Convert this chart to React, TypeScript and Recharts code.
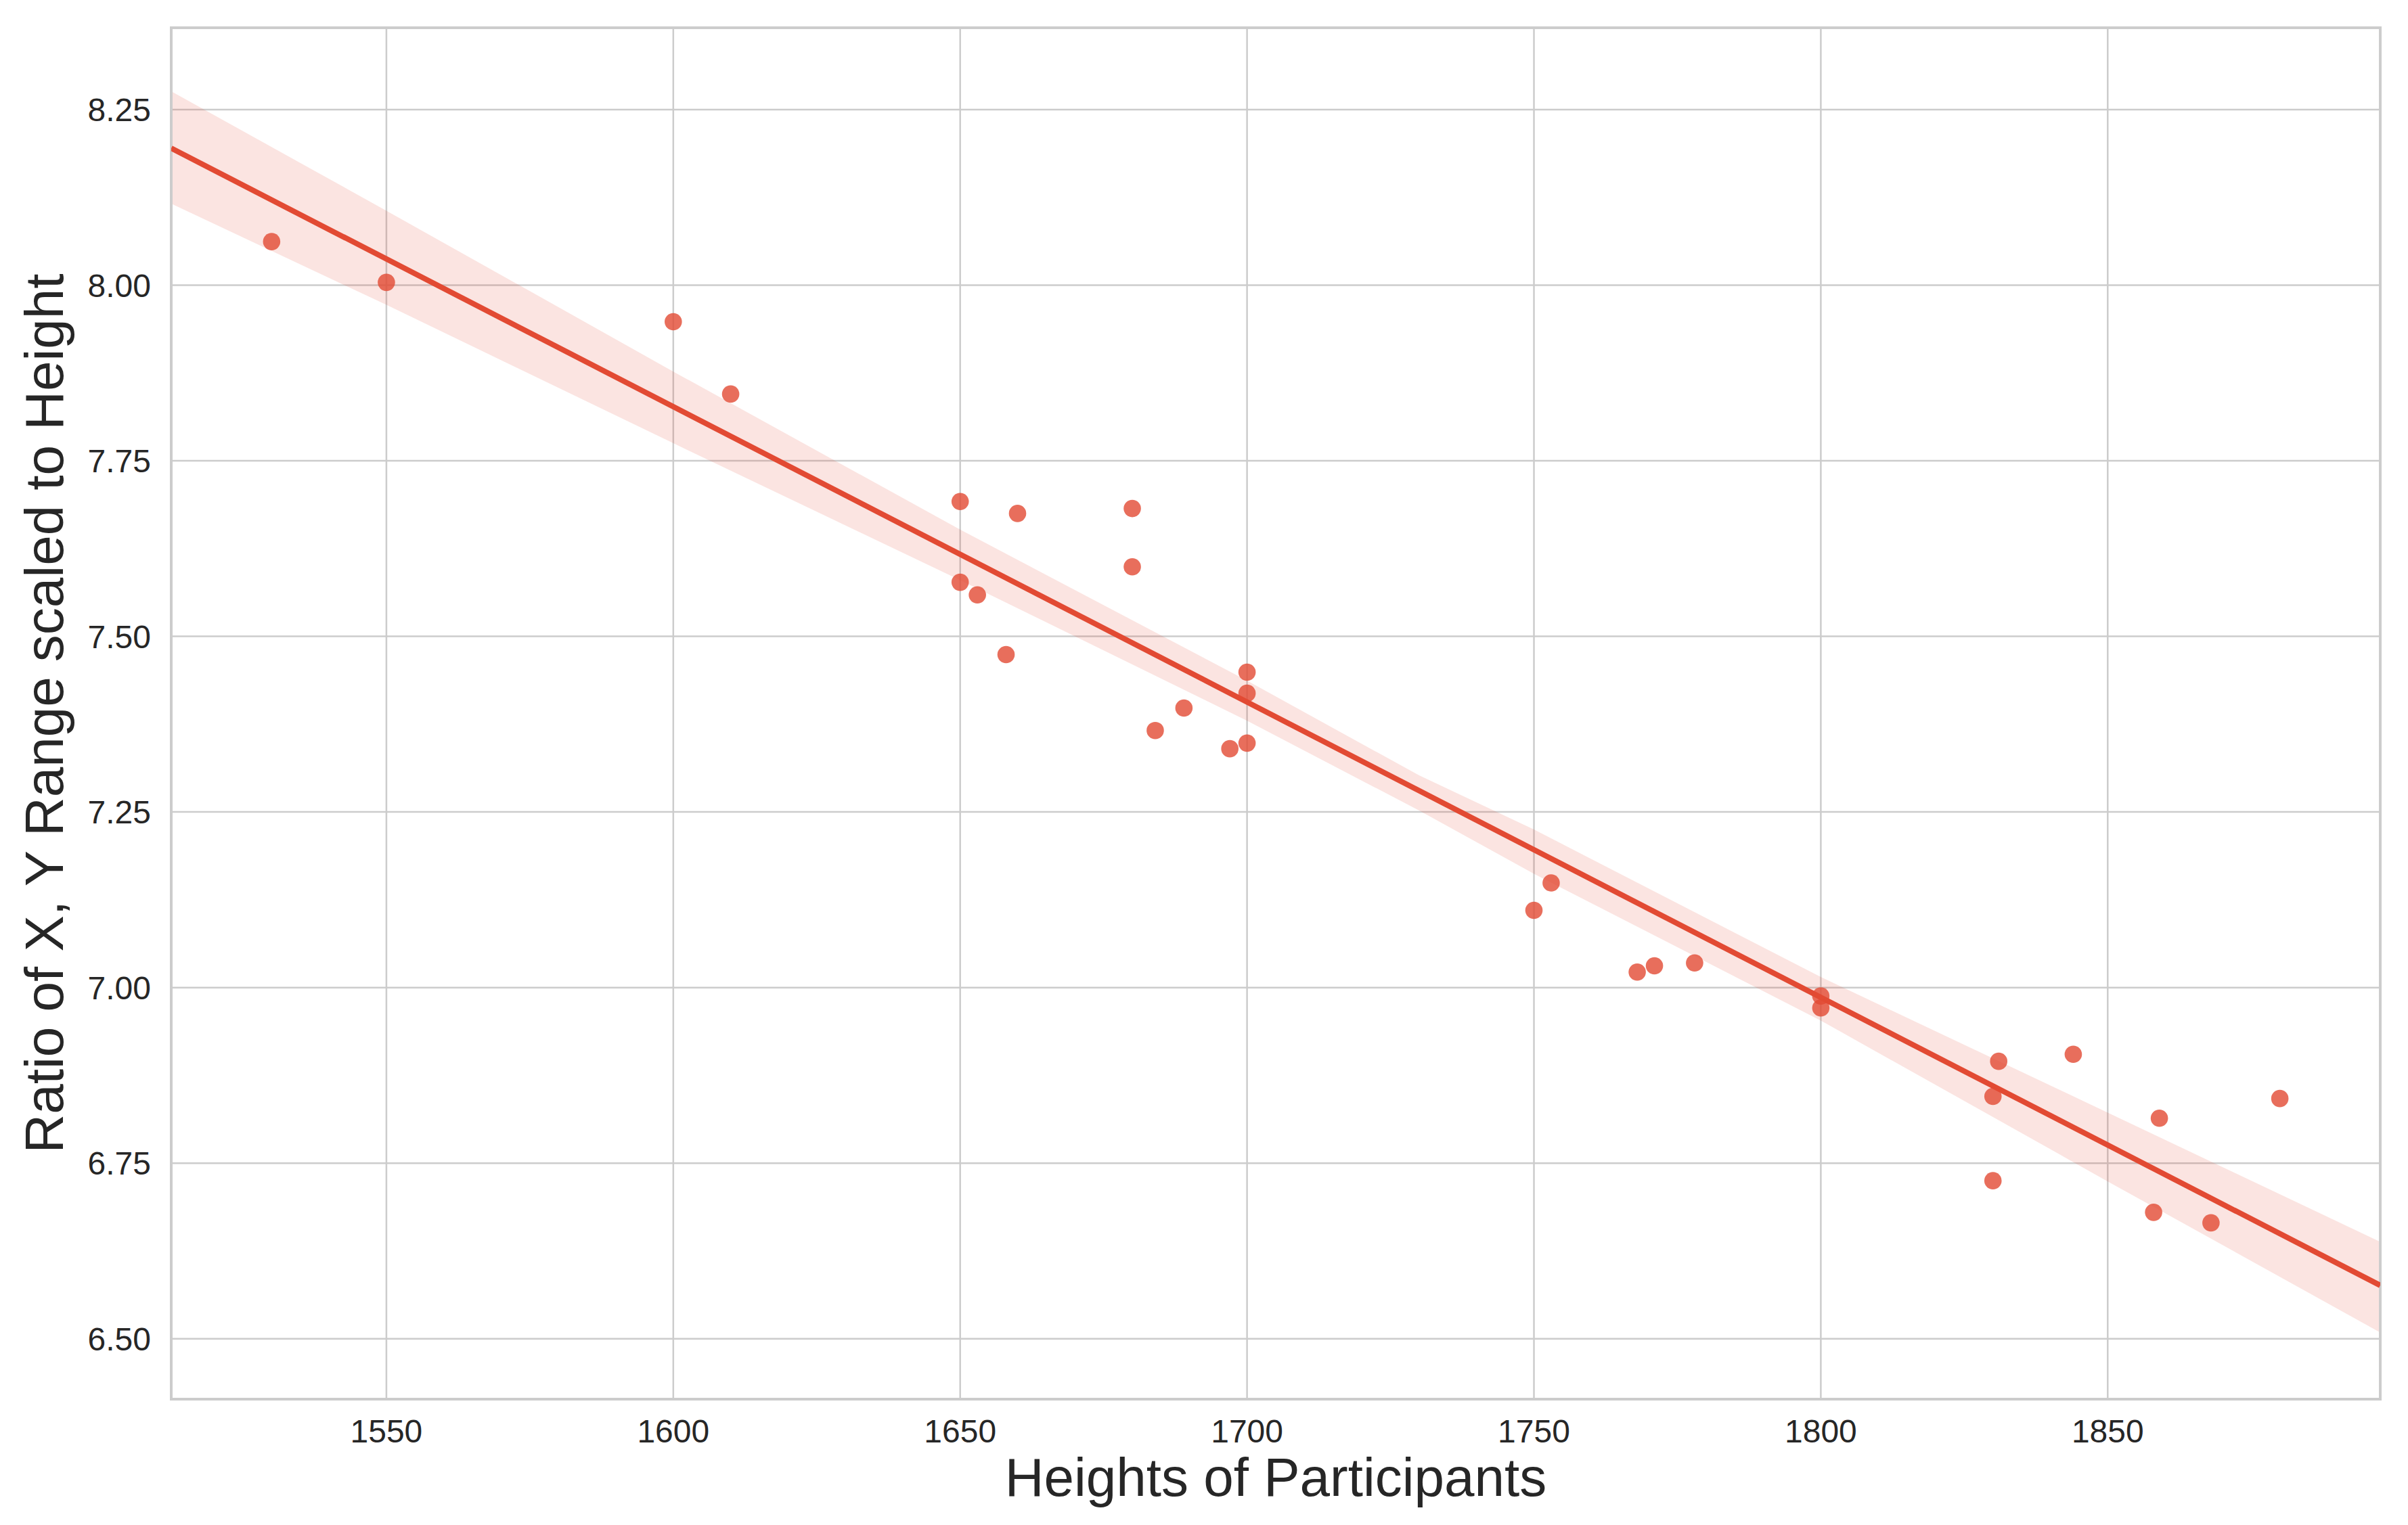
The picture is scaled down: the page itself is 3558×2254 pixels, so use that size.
import React from 'react';
import {
  ComposedChart,
  Scatter,
  Line,
  Area,
  XAxis,
  YAxis,
  CartesianGrid,
  ReferenceArea,
} from 'recharts';

// participant heights and the measured ratio
const heights = [
  1530, 1550, 1600, 1610, 1650, 1660, 1680, 1680, 1650, 1653, 1658, 1684, 1689, 1697, 1700, 1700,
  1700, 1750, 1753, 1768, 1771, 1778, 1800, 1800, 1830, 1831, 1830, 1844, 1859, 1858, 1868, 1880,
];
const ratios = [
  8.062, 8.004, 7.948, 7.845, 7.692, 7.675, 7.682, 7.599, 7.577, 7.559, 7.474, 7.366, 7.398, 7.340,
  7.348, 7.419, 7.449, 7.110, 7.149, 7.022, 7.031, 7.035, 6.988, 6.971, 6.845, 6.895, 6.725, 6.905,
  6.814, 6.680, 6.665, 6.842,
];

// fitted line and its confidence band
const fitX = [1512.5, 1897.5];
const fitY = [8.195, 6.576];

const bandX = [1512.5, 1550, 1600, 1650, 1700, 1730, 1750, 1800, 1850, 1897.5];
const bandUpper = [8.276, 8.106, 7.877, 7.652, 7.437, 7.302, 7.225, 7.015, 6.822, 6.638];
const bandLower = [8.116, 7.972, 7.775, 7.580, 7.380, 7.252, 7.162, 6.953, 6.724, 6.509];

const xTicks = [1550, 1600, 1650, 1700, 1750, 1800, 1850];
const yTicks = [6.5, 6.75, 7.0, 7.25, 7.5, 7.75, 8.0, 8.25];

const xDomain = [1512.5, 1897.5];
const yDomain = [6.414, 8.3665];

const points = heights.map((h, i) => ({ x: h, y: ratios[i] }));
const fitData = fitX.map((x, i) => ({ x, y: fitY[i] }));
const bandData = bandX.map((x, i) => ({ x, band: [bandLower[i], bandUpper[i]] }));

const RED = '#E24A33';
const GRID = '#cccccc';
const TEXT = '#262626';
const FONT = '"Liberation Sans", Arial, Helvetica, sans-serif';

const Dot = (props: any) => {
  const { cx, cy } = props;
  if (cx == null || cy == null) return null;
  return <circle cx={cx} cy={cy} r={12.8} fill={RED} fillOpacity={0.8} />;
};

const XTitle = (props: any) => {
  const { x, y, width } = props.viewBox;
  return (
    <text x={x + width / 2} y={y + 143} textAnchor="middle" fontSize={80} fill={TEXT} fontFamily={FONT}>
      Heights of Participants
    </text>
  );
};

const YTitle = (props: any) => {
  const { y, height } = props.viewBox;
  const cx = 85;
  const cy = y + height / 2;
  return (
    <text
      x={cx}
      y={cy}
      transform={`rotate(-90, ${cx}, ${cy})`}
      textAnchor="middle"
      fontSize={80}
      fill={TEXT}
      fontFamily={FONT}
    >
      Ratio of X, Y Range scaled to Height
    </text>
  );
};

export default function App() {
  return (
    <div style={{ width: 3542, height: 2238, background: '#fff' }}>
      <ComposedChart
        width={3542}
        height={2238}
        margin={{ top: 33, right: 33, bottom: 0, left: 0 }}
        style={{ fontFamily: FONT }}
      >
        <CartesianGrid stroke={GRID} strokeWidth={2.5} />
        <XAxis
          type="number"
          dataKey="x"
          domain={xDomain}
          ticks={xTicks}
          allowDataOverflow
          height={178}
          axisLine={false}
          tickLine={false}
          tickSize={0}
          tickMargin={30}
          tick={{ fontSize: 48, fill: TEXT, fontFamily: FONT }}
          label={XTitle}
        />
        <YAxis
          type="number"
          domain={yDomain}
          ticks={yTicks}
          allowDataOverflow
          width={245}
          axisLine={false}
          tickLine={false}
          tickSize={0}
          tickMargin={30}
          tickFormatter={(v: number) => v.toFixed(2)}
          tick={{ fontSize: 48, fill: TEXT, fontFamily: FONT }}
          label={YTitle}
        />
        <Scatter data={points} dataKey="y" shape={Dot} isAnimationActive={false} />
        <Area
          data={bandData}
          dataKey="band"
          type="linear"
          stroke="none"
          fill={RED}
          fillOpacity={0.15}
          isAnimationActive={false}
          activeDot={false}
        />
        <Line
          data={fitData}
          dataKey="y"
          type="linear"
          stroke={RED}
          strokeWidth={8}
          dot={false}
          activeDot={false}
          isAnimationActive={false}
        />
        <ReferenceArea
          x1={xDomain[0]}
          x2={xDomain[1]}
          y1={yDomain[0]}
          y2={yDomain[1]}
          fill="none"
          stroke={GRID}
          strokeWidth={4}
          ifOverflow="visible"
        />
      </ComposedChart>
    </div>
  );
}
